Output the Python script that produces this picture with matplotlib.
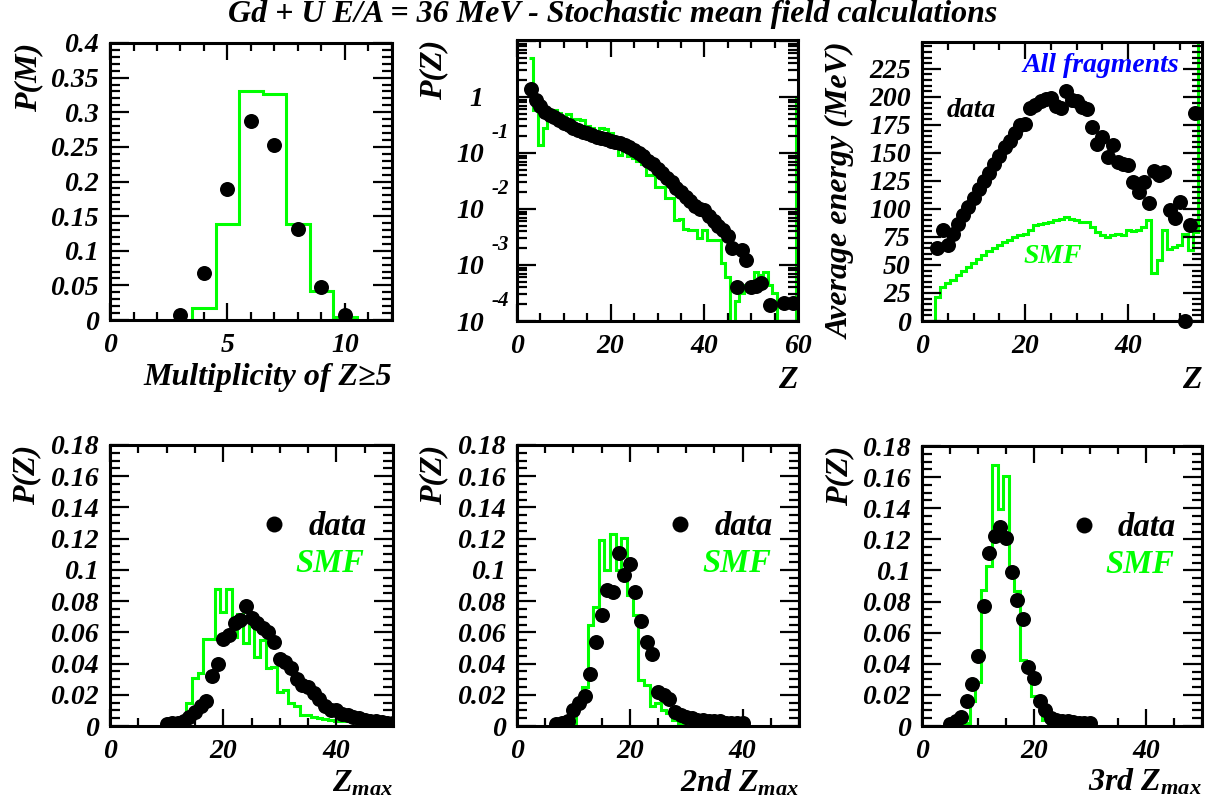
import numpy as np
import matplotlib
matplotlib.use("Agg")
import matplotlib.pyplot as plt
from matplotlib.ticker import MultipleLocator, FixedLocator, FixedFormatter, LogLocator, NullFormatter, FuncFormatter
from matplotlib.transforms import blended_transform_factory

# ---------------- data ----------------
# Panel 1: multiplicity of Z>=5
mult_M = [3, 4, 5, 6, 7, 8, 9, 10]
mult_data = [0.007, 0.068, 0.189, 0.288, 0.253, 0.132, 0.048, 0.007]
mult_err = [0, 0, 0, 0, 0, 0, 0, 0.012]
mult_smf_M = [4, 5, 6, 7, 8, 9, 10]
mult_smf = [0.0167, 0.138, 0.331, 0.326, 0.138, 0.042, 0.004]

# Panel 2: charge distribution (log scale)
zdist_Z = [3, 4, 5, 6, 7, 8, 9, 10, 11, 12, 13, 14, 15, 16, 17, 18, 19, 20, 21, 22,
           23, 24, 25, 26, 27, 28, 29, 30, 31, 32, 33, 34, 35, 36, 37, 38, 39, 40,
           41, 42, 43, 44, 45, 46, 47, 48, 49, 50, 51, 52, 54, 57, 59]
zdist_data = [1.41, 0.89, 0.68, 0.55, 0.48, 0.43, 0.38, 0.34, 0.31, 0.28, 0.26, 0.24,
              0.224, 0.209, 0.195, 0.182, 0.174, 0.166, 0.158, 0.148, 0.138, 0.129,
              0.115, 0.100, 0.087, 0.072, 0.063, 0.052, 0.044, 0.036, 0.030, 0.024,
              0.020, 0.0166, 0.0138, 0.0112, 0.0100, 0.0095, 0.0074, 0.0060, 0.0049,
              0.0042, 0.0033, 0.0020, 0.0004, 0.00186, 0.00123, 0.0004, 0.00042,
              0.00047, 0.000195, 0.00021, 0.00021]
zdist_smf_Z = list(range(3, 61))
zdist_smf = [5.0, 0.589, 0.141, 0.282, 0.589, 0.589, 0.513, 0.427, 0.49, 0.398,
             0.398, 0.38, 0.302, 0.282, 0.229, 0.282, 0.269, 0.229, 0.186, 0.0933,
             0.107, 0.0871, 0.0813, 0.0708, 0.063, 0.0407, 0.0407, 0.0251, 0.0251,
             0.0155, 0.0155, 0.0063, 0.00676, 0.00447, 0.00427, 0.00427, 0.00302,
             0.00427, 0.00282, 0.00282, 0.00282, 0.00107, 0.000617, 0.0, 0.000224,
             0.000316, 0.000437, 0.000437, 0.000759, 0.000661, 0.000759, 0.000437,
             0.000316, 0.0, 0.0, 0.0, 0.0, 1.0]

# Panel 3: average energy vs Z
energy_Z = list(range(3, 54))
energy_data = [65, 81, 68, 78, 87, 95, 102, 110, 118, 125, 132, 140, 147, 155, 161,
               168, 175, 176, 190, 193, 196, 198, 199, 192, 190, 205, 197, 196, 191,
               189, 173, 158, 164, 146, 157, 142, 140, 139, 124, 115, 124, 105, 134,
               130, 133, 99, 92, 106, 0, 86, 186]
energy_smf_Z = list(range(3, 55))
energy_smf = [21.6, 30.5, 33.5, 36.9, 40.8, 44.7, 48.3, 51.9, 55.4, 58.7, 62.2, 65.2,
              67.5, 70.2, 72.6, 74.9, 76.4, 77.9, 80.8, 85.3, 86.8, 87.4, 88.3, 89.8,
              91.3, 92.8, 91.0, 89.8, 88.3, 88.0, 83.8, 79.4, 76.4, 74.9, 76.4, 77.9,
              76.4, 80.8, 80.2, 81.4, 83.8, 89.8, 42.4, 54.3, 81.4, 64.5, 66.0, 67.5,
              77.9, 63.0, 79.4, 900.0]

# Panel 4: Zmax
zmax_Z = list(range(10, 51))
zmax_data = [0.001, 0.002, 0.002, 0.003, 0.006, 0.009, 0.0125, 0.016, 0.032, 0.040,
             0.056, 0.058, 0.066, 0.068, 0.077, 0.069, 0.066, 0.063, 0.060, 0.054,
             0.043, 0.041, 0.037, 0.030, 0.026, 0.025, 0.021, 0.017, 0.013, 0.010,
             0.010, 0.008, 0.007, 0.006, 0.005, 0.004, 0.0035, 0.003, 0.0025, 0.002,
             0.002]
zmax_smf_Z = list(range(11, 51))
zmax_smf = [0.0005, 0.0015, 0.004, 0.0145, 0.031, 0.034, 0.056, 0.056, 0.088, 0.073,
            0.088, 0.057, 0.072, 0.053, 0.064, 0.044, 0.055, 0.037, 0.038, 0.022,
            0.023, 0.015, 0.013, 0.0072, 0.0072, 0.006, 0.005, 0.0045, 0.004, 0.0035,
            0.003, 0.003, 0.0025, 0.002, 0.0012, 0.001, 0.0008, 0.0006, 0.0005, 0.0005]

# Panel 5: 2nd Zmax
zmax2_Z = list(range(7, 41))
zmax2_data = [0.001, 0.002, 0.003, 0.010, 0.015, 0.019, 0.033, 0.054, 0.071, 0.087,
              0.086, 0.111, 0.097, 0.104, 0.086, 0.067, 0.054, 0.046, 0.022, 0.020,
              0.017, 0.009, 0.007, 0.006, 0.005, 0.004, 0.004, 0.003, 0.003, 0.003,
              0.002, 0.002, 0.002, 0.002]
zmax2_smf_Z = list(range(9, 36))
zmax2_smf = [0.0005, 0.0017, 0.015, 0.025, 0.065, 0.076, 0.119, 0.100, 0.123, 0.100,
             0.1205, 0.084, 0.071, 0.0294, 0.026, 0.013, 0.015, 0.0104, 0.0086, 0.0039,
             0.0017, 0.001, 0.0006, 0.0005, 0.0005, 0.0004, 0.0004]

# Panel 6: 3rd Zmax
zmax3_Z = list(range(5, 31))
zmax3_data = [0.001, 0.003, 0.006, 0.016, 0.027, 0.045, 0.077, 0.111, 0.122, 0.128,
              0.121, 0.099, 0.081, 0.069, 0.038, 0.031, 0.016, 0.010, 0.005, 0.004,
              0.003, 0.003, 0.0025, 0.002, 0.002, 0.002]
zmax3_smf_Z = list(range(8, 26))
zmax3_smf = [0.0017, 0.0158, 0.028, 0.0877, 0.1026, 0.168, 0.1395, 0.161, 0.099,
             0.087, 0.0423, 0.0374, 0.0194, 0.0147, 0.0039, 0.0017, 0.0005, 0.0003]

title = "Gd + U E/A = 36 MeV - Stochastic mean field calculations"

# ---------------- style ----------------
plt.rcParams['font.family'] = ['Liberation Serif', 'DejaVu Serif']
plt.rcParams['font.weight'] = 'bold'
plt.rcParams['font.style'] = 'italic'
plt.rcParams['axes.labelweight'] = 'bold'
plt.rcParams['mathtext.fontset'] = 'custom'
plt.rcParams['mathtext.it'] = 'Liberation Serif:italic:bold'
plt.rcParams['mathtext.rm'] = 'Liberation Serif:italic:bold'
plt.rcParams['mathtext.bf'] = 'Liberation Serif:italic:bold'

GREEN = '#00ff00'
W, H = 1206, 810
fig = plt.figure(figsize=(W / 100, H / 100), dpi=100)
fig.patch.set_facecolor('white')

TICK_FS = 20
LAB_FS = 23
MS = 10.8


def px_axes(x0, x1, y0, y1):
    return fig.add_axes([x0 / W, 1 - y1 / H, (x1 - x0) / W, (y1 - y0) / H])


def style(ax, xmaj, xmin, ymaj=None, ymin=None, ypad=8):
    for s in ax.spines.values():
        s.set_linewidth(2.2)
    ax.tick_params(which='both', direction='in', top=True, right=True, width=1.6,
                   labelsize=TICK_FS)
    ax.tick_params(axis='y', which='major', length=14, pad=ypad)
    ax.tick_params(axis='y', which='minor', length=7)
    ax.tick_params(axis='x', which='major', length=12, pad=9)
    ax.tick_params(axis='x', which='minor', length=6)
    ax.xaxis.set_major_locator(MultipleLocator(xmaj))
    ax.xaxis.set_minor_locator(MultipleLocator(xmin))
    ax.xaxis.set_major_formatter(FuncFormatter(lambda v, p: '%g' % v))
    if ymaj is not None:
        ax.yaxis.set_major_locator(MultipleLocator(ymaj))
        ax.yaxis.set_minor_locator(MultipleLocator(ymin))
        ax.yaxis.set_major_formatter(FuncFormatter(lambda v, p: '%g' % round(v, 6)))


def labels(ax, xl, yl, xly=-0.235, ylx=-0.29):
    ax.set_xlabel(xl, fontsize=LAB_FS, loc='right')
    ax.xaxis.label.set_va('baseline')
    ax.xaxis.set_label_coords(1.0, xly)
    ax.set_ylabel(yl, fontsize=LAB_FS, loc='top')
    ax.yaxis.label.set_va('center')
    ax.yaxis.set_label_coords(ylx, 1.0)


def edges(centers):
    c = np.asarray(centers, dtype=float)
    return np.append(c - 0.5, c[-1] + 0.5)


# ---------- Panel 1 ----------
ax1 = px_axes(110, 392, 43, 320)
ax1.stairs(mult_smf, edges(mult_smf_M), baseline=0, color=GREEN, lw=2.2)
ax1.errorbar(mult_M, mult_data, yerr=mult_err, fmt='o', color='black', ms=MS,
             mew=0, elinewidth=1.5, capsize=0)
ax1.set_xlim(0, 12)
ax1.set_ylim(0, 0.4)
style(ax1, 5, 1, 0.05, 0.01)
labels(ax1, 'Multiplicity of Z\u22655', 'P(M)', ylx=-0.289)

# ---------- Panel 2 ----------
ax2 = px_axes(517, 798, 40, 321)
ax2.set_yscale('log')
ax2.stairs(np.clip(zdist_smf, 1e-9, None), edges(zdist_smf_Z), baseline=None,
           color=GREEN, lw=2.2)
ax2.plot(zdist_Z, zdist_data, 'o', color='black', ms=MS, mew=0)
ax2.set_xlim(0, 60)
ax2.set_ylim(1e-4, 10.4)
style(ax2, 20, 5, ypad=24)
dec = [1e-4, 1e-3, 1e-2, 1e-1, 1, 10]
ax2.yaxis.set_major_locator(FixedLocator(dec))
ax2.yaxis.set_major_formatter(FixedFormatter(['10', '10', '10', '10', '1', '']))
ax2.yaxis.set_minor_locator(LogLocator(base=10, subs=np.arange(2, 10), numticks=20))
ax2.yaxis.set_minor_formatter(NullFormatter())
tr = blended_transform_factory(ax2.transAxes, ax2.transData)
for k, d in zip(['-4', '-3', '-2', '-1'], dec[:4]):
    ax2.text(-0.089, d * 2.3, k, transform=tr, ha='left', va='center',
             fontsize=15, clip_on=False)
labels(ax2, 'Z', 'P(Z)', xly=-0.238, ylx=-0.295)

# ---------- Panel 3 ----------
ax3 = px_axes(922, 1202, 42, 321)
ax3.stairs(energy_smf, edges(energy_smf_Z), baseline=0, color=GREEN, lw=2.2)
ax3.plot(energy_Z, energy_data, 'o', color='black', ms=MS, mew=0, clip_on=False)
ax3.set_xlim(0, 54.3)
ax3.set_ylim(0, 249)
style(ax3, 20, 5, 25, 5)
labels(ax3, 'Z', 'Average energy (MeV)', xly=-0.24, ylx=-0.289)
ax3.text(0.64, 0.893, 'All fragments', transform=ax3.transAxes, color='#0000ff',
         fontsize=20, ha='center', va='baseline')
ax3.text(0.089, 0.732, 'data', transform=ax3.transAxes, color='black',
         fontsize=20, ha='left', va='baseline')
ax3.text(0.361, 0.208, 'SMF', transform=ax3.transAxes, color=GREEN,
         fontsize=20, ha='left', va='baseline')

# ---------- Bottom panels ----------
bottom = [
    ((110, 393, 445, 726), zmax_Z, zmax_data, zmax_smf_Z, zmax_smf, 'Z$_{max}$'),
    ((517, 799, 445, 726), zmax2_Z, zmax2_data, zmax2_smf_Z, zmax2_smf, '2nd Z$_{max}$'),
    ((922, 1202, 446, 726), zmax3_Z, zmax3_data, zmax3_smf_Z, zmax3_smf, '3rd Z$_{max}$'),
]
for box, zx, zy, sx, sy, xl in bottom:
    ax = px_axes(*box)
    ax.stairs(sy, edges(sx), baseline=0, color=GREEN, lw=2.2)
    ax.plot(zx, zy, 'o', color='black', ms=MS, mew=0)
    ax.set_xlim(0, 50)
    ax.set_ylim(0, 0.18)
    style(ax, 20, 5, 0.02, 0.005)
    labels(ax, xl, 'P(Z)', xly=-0.232, ylx=-0.295)
    ax.plot([0.578], [0.719], 'o', color='black', ms=11.5, mew=0,
            transform=ax.transAxes, clip_on=False)
    ax.text(0.906, 0.68, 'data', transform=ax.transAxes, color='black',
            fontsize=23.5, ha='right', va='baseline')
    ax.text(0.900, 0.548, 'SMF', transform=ax.transAxes, color=GREEN,
            fontsize=23.5, ha='right', va='baseline')

fig.text(0.508, 0.9815, title, ha='center', va='center', fontsize=23)

fig.savefig('out.png', dpi=100, facecolor='white')
